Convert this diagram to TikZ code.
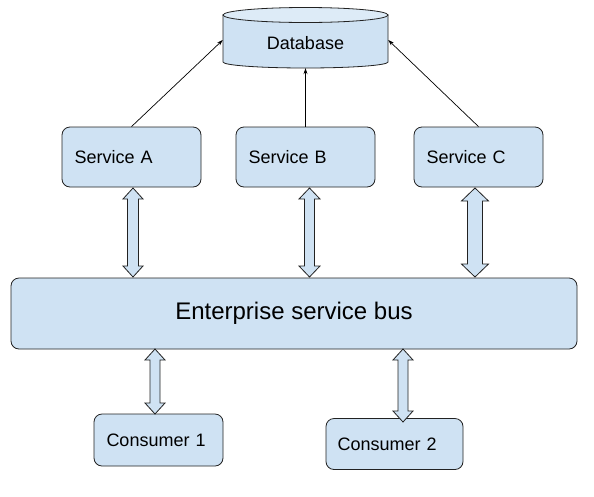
\documentclass[tikz,border=0pt]{standalone}
\usepackage{fontspec}
\setmainfont{Liberation Sans}
\usetikzlibrary{arrows.meta,calc}
\definecolor{boxfill}{HTML}{CFE2F3}
\definecolor{boxtop}{HTML}{DDEBF7}
\definecolor{boxline}{HTML}{222222}
\tikzset{
  boxstyle/.style={draw=boxline, fill=boxfill, rounded corners=8pt, line width=0.8pt, font=\fontsize{18}{20}\selectfont, anchor=center},
  thinarrow/.style={draw=black, line width=0.7pt, -{Stealth[length=6pt,width=4pt]}},
  fatarrow/.style={draw=boxline, fill=boxfill, line width=0.8pt, line join=miter},
}
% \fatdbl{x}{ytop}{ybottom}{shaft half}{head half}{head length}
\newcommand{\fatdbl}[6]{%
  \path[fatarrow] (#1,#2) -- (#1+#5,#2+#6) -- (#1+#4,#2+#6) -- (#1+#4,#3-#6) -- (#1+#5,#3-#6)
    -- (#1,#3) -- (#1-#5,#3-#6) -- (#1-#4,#3-#6) -- (#1-#4,#2+#6) -- (#1-#5,#2+#6) -- cycle;}
\begin{document}
\begin{tikzpicture}[x=1pt,y=-1pt]
\useasboundingbox (0,0) rectangle (594,496);
\fill[white] (0,0) rectangle (594,496);

% Database cylinder
\path[draw=boxline, fill=boxfill, line width=0.8pt]
  (223,15) -- (223,62) arc[start angle=180, end angle=360, x radius=82.5, y radius=-6] -- (388,15) -- cycle;
\path[draw=boxline, fill=boxtop, line width=0.8pt] (305.5,15) ellipse[x radius=82.5, y radius=7.5];
\node[font=\fontsize{18}{20}\selectfont, minimum width=165pt, minimum height=56pt, inner sep=0pt] (db) at (305.5,40) {};
\node[font=\fontsize{18}{20}\selectfont] (dbtext) at (305.5,43) {Database};

% Services
\node[boxstyle, minimum width=139pt, minimum height=60pt, text width=114pt, inner xsep=12.5pt, align=left] (sa) at (131.5,157) {Service A};
\node[boxstyle, minimum width=139pt, minimum height=60pt, text width=114pt, inner xsep=12.5pt, align=left] (sb) at (305.5,157) {Service B};
\node[boxstyle, minimum width=129pt, minimum height=60pt, text width=104pt, inner xsep=12.5pt, align=left] (sc) at (478.5,157) {Service C};

% ESB
\node[boxstyle, minimum width=566pt, minimum height=71pt, font=\fontsize{24}{26}\selectfont] (esb) at (294,313.5) {Enterprise service bus};

% Consumers
\node[boxstyle, minimum width=129pt, minimum height=52pt, text width=104pt, inner xsep=12.5pt, align=left] (c1) at (158.5,440) {Consumer 1};
\node[boxstyle, minimum width=137pt, minimum height=51pt, text width=114pt, inner xsep=11.5pt, align=left] (c2) at (394.5,444) {Consumer 2};

% thin arrows to database
\draw[thinarrow] (sa.north) -- (db.west);
\draw[thinarrow] (sb.north) -- (db.south);
\draw[thinarrow] (sc.north) -- (db.east);

% fat double arrows
\fatdbl{133}{188}{277}{5.5}{10}{11}
\fatdbl{309.5}{188}{277}{5}{10.5}{11}
\fatdbl{475}{188}{277}{7.5}{13.5}{13}
\fatdbl{155}{349}{414}{5}{10}{11}
\fatdbl{403}{349}{422}{5}{10}{11}
\end{tikzpicture}
\end{document}
